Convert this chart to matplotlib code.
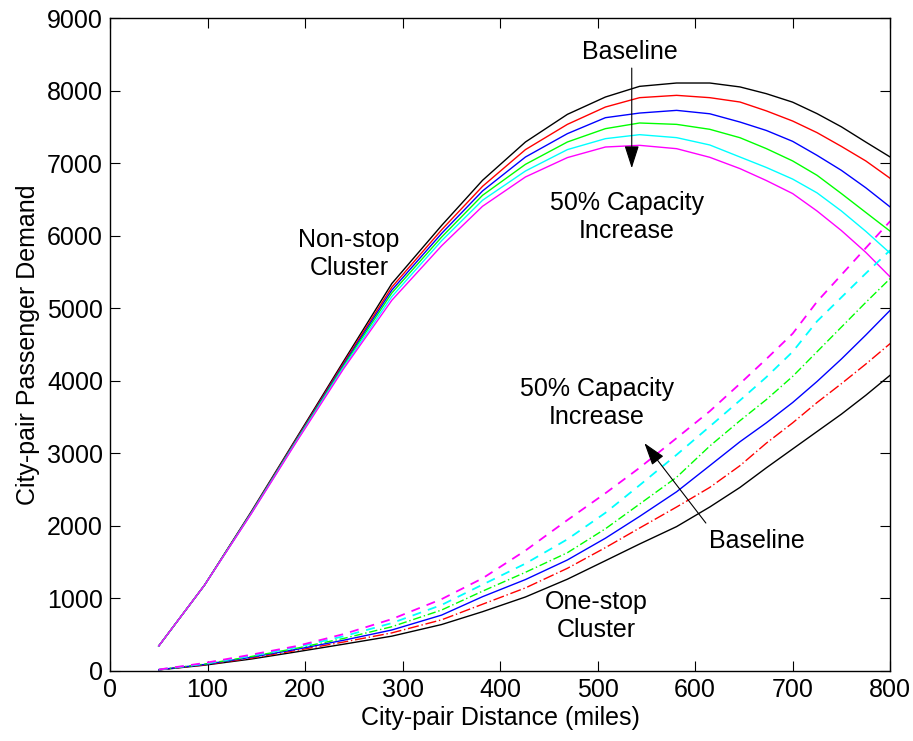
import numpy as np
import matplotlib
matplotlib.use('Agg')
import matplotlib.pyplot as plt

plt.rcParams['font.family'] = ['Liberation Sans', 'DejaVu Sans']

# city-pair distance (miles)
dist = [50, 97, 145, 192, 240, 289, 340, 382, 426, 469, 508, 543, 581,
        615, 646, 673, 700, 725, 750, 775, 800]

# non-stop cluster demand, baseline -> 50% capacity increase
ns_black = [345, 1185, 2200, 3230, 4280, 5340, 6140, 6763, 7291, 7672, 7911,
            8058, 8104, 8104, 8050, 7957, 7840, 7682, 7500, 7290, 7084]
ns_red = [345, 1185, 2190, 3215, 4255, 5290, 6080, 6680, 7186, 7534, 7773,
          7902, 7934, 7902, 7842, 7720, 7580, 7420, 7230, 7030, 6790]
ns_blue = [345, 1185, 2185, 3205, 4235, 5250, 6030, 6616, 7084, 7406, 7626,
           7690, 7727, 7680, 7566, 7450, 7300, 7107, 6900, 6660, 6395]
ns_green = [345, 1185, 2180, 3195, 4215, 5210, 5980, 6556, 6983, 7291, 7475,
            7553, 7534, 7466, 7350, 7200, 7030, 6832, 6580, 6320, 6061]
ns_cyan = [345, 1185, 2175, 3185, 4195, 5160, 5930, 6488, 6891, 7186, 7337,
           7392, 7351, 7250, 7084, 6940, 6780, 6590, 6340, 6060, 5758]
ns_magenta = [345, 1185, 2170, 3175, 4175, 5110, 5860, 6405, 6809, 7076, 7222,
              7245, 7199, 7080, 6924, 6760, 6580, 6340, 6070, 5770, 5431]

# one-stop cluster demand
os_black = [15, 80, 165, 265, 370, 480, 640, 817, 1020, 1265, 1520, 1750,
            1990, 2260, 2530, 2800, 3060, 3300, 3540, 3800, 4077]
os_red = [16, 85, 178, 285, 400, 525, 705, 920, 1145, 1415, 1700, 1970,
          2260, 2530, 2830, 3140, 3420, 3700, 3960, 4230, 4513]
os_blue = [17, 90, 190, 300, 425, 565, 770, 1024, 1260, 1530, 1830, 2130,
           2470, 2830, 3160, 3420, 3700, 3990, 4300, 4630, 4972]
os_green = [18, 95, 200, 315, 450, 610, 840, 1100, 1360, 1630, 1960, 2300,
            2670, 3100, 3450, 3740, 4060, 4400, 4740, 5080, 5409]
os_cyan = [19, 100, 210, 330, 480, 660, 910, 1190, 1480, 1815, 2180, 2560,
           2980, 3370, 3730, 4050, 4400, 4820, 5150, 5480, 5800]
os_magenta = [20, 110, 225, 345, 510, 715, 990, 1277, 1660, 2080, 2450, 2800,
              3210, 3580, 3960, 4300, 4650, 5090, 5460, 5830, 6200]

fig = plt.figure(figsize=(9.13, 7.41), dpi=100)
ax = fig.add_axes([0.1205, 0.0945, 0.8545, 0.8812])

lw = 1.0
ax.plot(dist, ns_black, 'k', lw=lw)
ax.plot(dist, ns_red, 'r', lw=lw)
ax.plot(dist, ns_blue, 'b', lw=lw)
ax.plot(dist, ns_green, color='#00ff00', lw=lw)
ax.plot(dist, ns_cyan, color='#00ffff', lw=lw)
ax.plot(dist, ns_magenta, color='#ff00ff', lw=lw)

ax.plot(dist, os_black, 'k-', lw=lw)
ax.plot(dist, os_red, 'r-.', lw=lw, dashes=(8, 2, 1, 2))
ax.plot(dist, os_blue, 'b-', lw=lw)
ax.plot(dist, os_green, '-.', color='#00ff00', lw=lw, dashes=(6, 2, 1, 2))
ax.plot(dist, os_cyan, '--', color='#00ffff', lw=1.3, dashes=(5, 4))
ax.plot(dist, os_magenta, '--', color='#ff00ff', lw=1.3, dashes=(5, 4))

fs = 18
ls = 1.2
ax.text(533, 8526, 'Baseline', fontsize=fs, ha='center', va='center')
ax.annotate('', xy=(535, 6930), xytext=(535, 8310),
            arrowprops=dict(arrowstyle='-|>,head_length=1.4,head_width=0.45',
                            color='k', lw=0.8, shrinkA=0, shrinkB=0))
ax.text(530, 6253, '50% Capacity\nIncrease', fontsize=fs, ha='center',
        va='center', linespacing=ls)
ax.text(245, 5744, 'Non-stop\nCluster', fontsize=fs, ha='center',
        va='center', linespacing=ls)
ax.text(499, 3691, '50% Capacity\nIncrease', fontsize=fs, ha='center',
        va='center', linespacing=ls)
ax.annotate('', xy=(548, 3140), xytext=(611, 2039),
            arrowprops=dict(arrowstyle='-|>,head_length=1.4,head_width=0.45',
                            color='k', lw=0.8, shrinkA=0, shrinkB=0))
ax.text(663, 1790, 'Baseline', fontsize=fs, ha='center', va='center')
ax.text(499, 758, 'One-stop\nCluster', fontsize=fs, ha='center',
        va='center', linespacing=ls)

ax.set_xlim(0, 800)
ax.set_ylim(0, 9000)
ax.set_xticks(np.arange(0, 801, 100))
ax.set_yticks(np.arange(0, 9001, 1000))
ax.tick_params(direction='in', top=True, right=True, length=7, width=0.8,
               labelsize=fs, pad=5)
for s in ax.spines.values():
    s.set_linewidth(1.0)
ax.set_xlabel('City-pair Distance (miles)', fontsize=fs, labelpad=3)
ax.set_ylabel('City-pair Passenger Demand', fontsize=fs, labelpad=5)

plt.savefig('out.png', dpi=100)
